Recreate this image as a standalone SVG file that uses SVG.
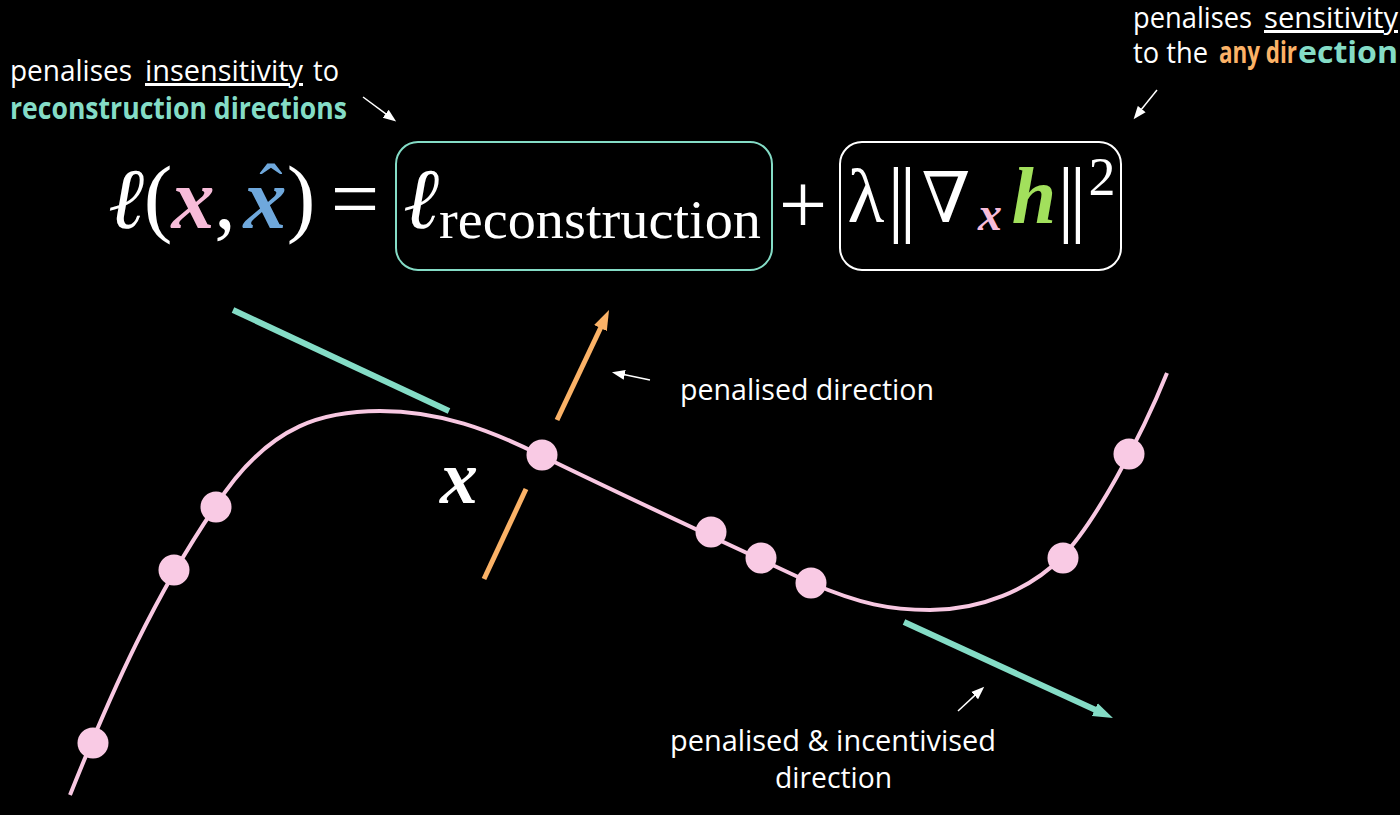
<svg xmlns="http://www.w3.org/2000/svg" width="1400" height="815" viewBox="0 0 1400 815">
<style>
.lbl{font-family:"Open Sans","Noto Sans","Liberation Sans",sans-serif;font-size:30px;fill:#ffffff}
.b{font-weight:bold}
.teal{fill:#84dcc6}
.orange{fill:#fbb267}
.ul{text-decoration:underline}
.m{font-family:"Liberation Serif","DejaVu Serif",serif;fill:#ffffff}
.curve{fill:none;stroke:#f8c8e2;stroke-width:4}
.dot{fill:#f9cae4}
.wa{stroke:#ffffff;stroke-width:1.5;fill:none}
</style>
<defs>
<marker id="ahO" viewBox="0 -8 22 16" markerWidth="22" markerHeight="16" refX="1" refY="0" orient="auto" markerUnits="userSpaceOnUse"><path d="M0,-7 L20,0 L0,7 Z" fill="#fbb267"/></marker>
<marker id="ahT" viewBox="0 -8 22 16" markerWidth="22" markerHeight="16" refX="1" refY="0" orient="auto" markerUnits="userSpaceOnUse"><path d="M0,-7 L20,0 L0,7 Z" fill="#84dcc6"/></marker>
<marker id="ahW" viewBox="0 -6 14 12" markerWidth="14" markerHeight="12" refX="1" refY="0" orient="auto" markerUnits="userSpaceOnUse"><path d="M0,-5 L13,0 L0,5 Z" fill="#ffffff"/></marker>
</defs>
<rect x="0" y="0" width="1400" height="815" fill="#000000"/>

<g id="label-top-left">
<text class="lbl" x="10" y="81" textLength="122" lengthAdjust="spacingAndGlyphs">penalises</text>
<text class="lbl ul" x="145" y="81" textLength="158" lengthAdjust="spacingAndGlyphs">insensitivity</text>
<text class="lbl" x="313" y="81" textLength="26" lengthAdjust="spacingAndGlyphs">to</text>
<text class="lbl b teal" x="10" y="119" textLength="337" lengthAdjust="spacingAndGlyphs">reconstruction directions</text>
</g>

<g id="label-top-right">
<text class="lbl" x="1133" y="28" textLength="119" lengthAdjust="spacingAndGlyphs">penalises</text>
<text class="lbl ul" x="1264" y="28" textLength="134" lengthAdjust="spacingAndGlyphs">sensitivity</text>
<text class="lbl" x="1133" y="63" textLength="75" lengthAdjust="spacingAndGlyphs">to the</text>
<text class="lbl b orange" x="1219" y="63" textLength="78" lengthAdjust="spacingAndGlyphs">any dir</text>
<text class="lbl b teal" x="1298" y="63" textLength="100" lengthAdjust="spacingAndGlyphs">ection</text>
</g>

<g id="equation">
<text class="m" font-size="86" x="126" y="228" text-anchor="middle" font-style="italic">ℓ</text>
<text class="m" font-size="86" x="158" y="226" text-anchor="middle">(</text>
<text class="m" font-size="86" x="193" y="228" text-anchor="middle" font-style="italic" font-weight="bold" style="fill:#f7bcd9">x</text>
<text class="m" font-size="86" x="225" y="228" text-anchor="middle">,</text>
<text class="m" font-size="86" x="265" y="228" text-anchor="middle" font-style="italic" font-weight="bold" style="fill:#6fa8dc">x</text>
<text class="m" font-size="70" x="271" y="212" text-anchor="middle" style="fill:#6fa8dc">ˆ</text>
<text class="m" font-size="86" x="301" y="226" text-anchor="middle">)</text>
<text class="m" font-size="86" x="355" y="228" text-anchor="middle">=</text>
</g>

<g id="box-reconstruction">
<rect x="396" y="142" width="376" height="128" rx="22" fill="none" stroke="#84dcc6" stroke-width="2"/>
<text class="m" font-size="86" x="421" y="228" text-anchor="middle" font-style="italic">ℓ</text>
<text class="m" font-size="54" x="439" y="238" textLength="322" lengthAdjust="spacingAndGlyphs">reconstruction</text>
</g>

<g id="plus">
<text class="m" font-size="86" x="803" y="234" text-anchor="middle">+</text>
</g>

<g id="box-gradient">
<rect x="840" y="142" width="281" height="128" rx="22" fill="none" stroke="#ffffff" stroke-width="2"/>
<text class="m" font-size="76" x="866" y="222" text-anchor="middle">λ</text>
<text class="m" font-size="84" x="896" y="226" text-anchor="middle">|</text>
<text class="m" font-size="84" x="908" y="226" text-anchor="middle">|</text>
<text class="m" font-size="70" x="946" y="222" text-anchor="middle">∇</text>
<text class="m" font-size="48" x="990" y="230" text-anchor="middle" font-style="italic" font-weight="bold" style="fill:#f7bcd9">x</text>
<text class="m" font-size="80" x="1034" y="223" text-anchor="middle" font-style="italic" font-weight="bold" style="fill:#a2e05c">h</text>
<text class="m" font-size="84" x="1066" y="226" text-anchor="middle">|</text>
<text class="m" font-size="84" x="1078" y="226" text-anchor="middle">|</text>
<text class="m" font-size="54" x="1102" y="195" text-anchor="middle">2</text>
</g>

<g id="manifold">
<path class="curve" d="M70,795 C112,690 155,595 215,507 C270,420 330,411 380,411 C440,411 490,430 540,455 C630,499 730,545 811,583 C860,604 890,610 930,610 C980,610 1030,590 1062,557 C1094,524 1140,440 1167,373"/>
</g>

<g id="connectors">
<line x1="233" y1="310" x2="449" y2="411" stroke="#84dcc6" stroke-width="6"/>
<line x1="904" y1="622" x2="1095.7" y2="710.1" stroke="#84dcc6" stroke-width="6" marker-end="url(#ahT)"/>
<line x1="557" y1="420" x2="600.9" y2="327.2" stroke="#fbb267" stroke-width="5" marker-end="url(#ahO)"/>
<line x1="526" y1="489" x2="484" y2="579" stroke="#fbb267" stroke-width="5"/>
<line class="wa" x1="363" y1="97" x2="386.5" y2="114.3" marker-end="url(#ahW)"/>
<line class="wa" x1="1157" y1="90" x2="1141.1" y2="109.8" marker-end="url(#ahW)"/>
<line class="wa" x1="650" y1="380" x2="623.7" y2="374.6" marker-end="url(#ahW)"/>
<line class="wa" x1="958" y1="711" x2="975.4" y2="694.9" marker-end="url(#ahW)"/>
</g>

<g id="points">
<circle class="dot" cx="93" cy="743" r="15.5"/>
<circle class="dot" cx="174" cy="570" r="15.5"/>
<circle class="dot" cx="216" cy="507" r="15.5"/>
<circle class="dot" cx="542" cy="455" r="15.5"/>
<circle class="dot" cx="711" cy="532" r="15.5"/>
<circle class="dot" cx="761" cy="558" r="15.5"/>
<circle class="dot" cx="811" cy="583" r="15.5"/>
<circle class="dot" cx="1063" cy="558" r="15.5"/>
<circle class="dot" cx="1129" cy="454" r="15.5"/>
</g>

<g id="label-x">
<text class="m" font-size="76" x="459" y="503" text-anchor="middle" font-style="italic" font-weight="bold">x</text>
</g>

<g id="label-penalised">
<text class="lbl" x="680" y="400" textLength="254" lengthAdjust="spacingAndGlyphs">penalised direction</text>
</g>

<g id="label-incentivised">
<text class="lbl" x="670" y="751" textLength="326" lengthAdjust="spacingAndGlyphs">penalised &amp; incentivised</text>
<text class="lbl" x="775" y="788" textLength="117" lengthAdjust="spacingAndGlyphs">direction</text>
</g>
</svg>
